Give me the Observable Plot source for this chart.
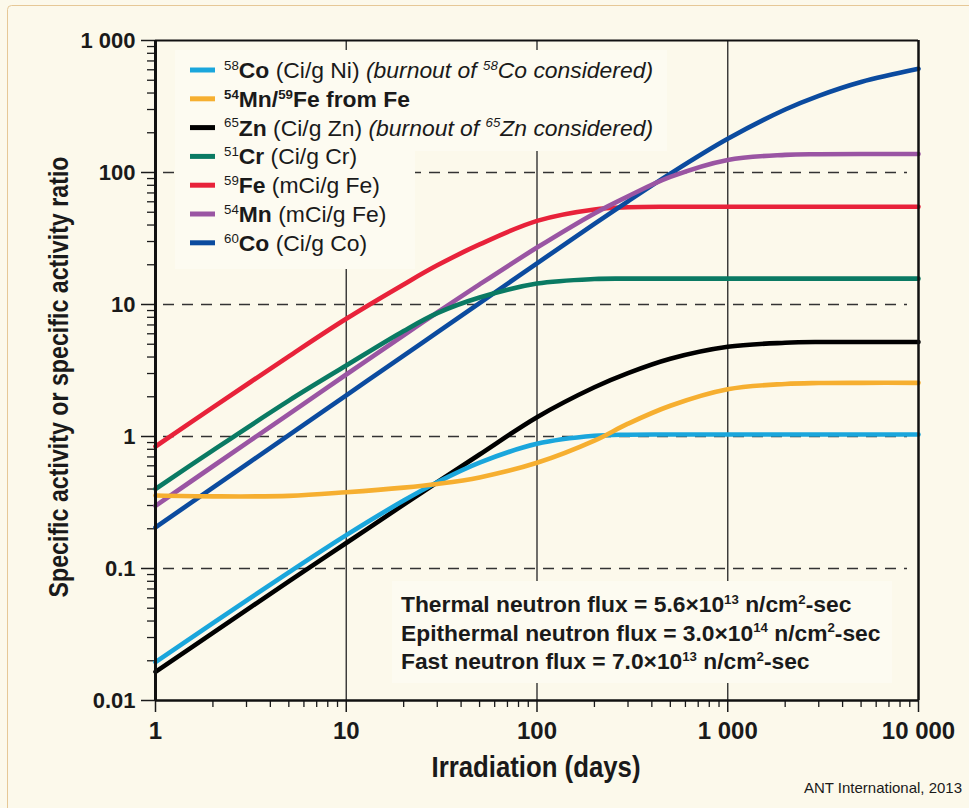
<!DOCTYPE html>
<html><head><meta charset="utf-8">
<script src="https://cdn.jsdelivr.net/npm/d3@7"></script>
<script src="https://cdn.jsdelivr.net/npm/@observablehq/plot@0.6"></script>
<style>
html,body{margin:0;padding:0;background:#fcf9eb;}
#chart{position:relative;width:969px;height:808px;overflow:hidden;}
</style></head><body><div id="chart"></div>
<script>
// ---- data ----
const days   = [1, 2, 5, 10, 20, 30, 50, 100, 200, 300, 500, 1000, 2000, 3000, 5000, 10000];
const co58   = [0.0195, 0.0385, 0.0935, 0.179, 0.327, 0.45, 0.634, 0.88, 1.012, 1.032, 1.035, 1.035, 1.035, 1.035, 1.035, 1.035];
const mnFe   = [0.357, 0.352, 0.355, 0.378, 0.41, 0.437, 0.49, 0.632, 0.93, 1.25, 1.71, 2.28, 2.5, 2.54, 2.55, 2.55];
const zn65   = [0.0165, 0.0325, 0.080, 0.156, 0.305, 0.45, 0.73, 1.40, 2.36, 3.02, 3.88, 4.78, 5.13, 5.2, 5.2, 5.2];
const cr51   = [0.40, 0.785, 1.87, 3.45, 6.3, 8.6, 11.3, 14.4, 15.6, 15.7, 15.7, 15.7, 15.7, 15.7, 15.7, 15.7];
const fe59   = [0.84, 1.66, 4.05, 7.8, 14.2, 19.8, 28.5, 43, 52.5, 54.5, 55, 55, 55, 55, 55, 55];
const mn54   = [0.298, 0.595, 1.48, 2.95, 5.85, 8.7, 14.2, 27, 49, 66, 92.5, 124.5, 136, 137.5, 138, 138];
const co60   = [0.205, 0.41, 1.025, 2.05, 4.1, 6.15, 10.25, 20.5, 40.8, 60.5, 98, 180, 300, 381, 485, 610];

const seriesKeys   = ["co58", "mnFe", "zn65", "cr51", "fe59", "mn54", "co60"];
const seriesColors = ["#1aa6dc", "#f6af30", "#000000", "#0a7a63", "#e8223a", "#9a55a3", "#0b4b9f"];
const seriesValues = [co58, mnFe, zn65, cr51, fe59, mn54, co60];
const drawOrder    = ["fe59", "co60", "mn54", "cr51", "zn65", "co58", "mnFe"];

const xMajor = [1, 10, 100, 1000, 10000];
const xMajorLabels = ["1", "10", "100", "1 000", "10 000"];
const yMajor = [0.01, 0.1, 1, 10, 100, 1000];
const yMajorLabels = ["0.01", "0.1", "1", "10", "100", "1 000"];
const xGrid = [10, 100, 1000];
const yGrid = [0.1, 1, 10, 100];

const legendRows = [
  [{t:"58",sup:1},{t:"Co",b:1},{t:" (Ci/g Ni) "},{t:"(burnout of ",i:1},{t:"58",sup:1,i:1},{t:"Co considered)",i:1}],
  [{t:"54",sup:1,b:1},{t:"Mn/",b:1},{t:"59",sup:1,b:1},{t:"Fe from Fe",b:1}],
  [{t:"65",sup:1},{t:"Zn",b:1},{t:" (Ci/g Zn) "},{t:"(burnout of ",i:1},{t:"65",sup:1,i:1},{t:"Zn considered)",i:1}],
  [{t:"51",sup:1},{t:"Cr",b:1},{t:" (Ci/g Cr)"}],
  [{t:"59",sup:1},{t:"Fe",b:1},{t:" (mCi/g Fe)"}],
  [{t:"54",sup:1},{t:"Mn",b:1},{t:" (mCi/g Fe)"}],
  [{t:"60",sup:1},{t:"Co",b:1},{t:" (Ci/g Co)"}]
];
const noteRows = [
  [{t:"Thermal neutron flux = 5.6×10"},{t:"13",sup:1},{t:" n/cm"},{t:"2",sup:1},{t:"-sec"}],
  [{t:"Epithermal neutron flux = 3.0×10"},{t:"14",sup:1},{t:" n/cm"},{t:"2",sup:1},{t:"-sec"}],
  [{t:"Fast neutron flux = 7.0×10"},{t:"13",sup:1},{t:" n/cm"},{t:"2",sup:1},{t:"-sec"}]
];
const xTitle = "Irradiation (days)";
const yTitle = "Specific activity or specific activity ratio";
const caption = "ANT International, 2013";

// ---- build ----
const SANS = "'Liberation Sans', Arial, Helvetica, sans-serif";
const NARROW = "'Liberation Sans Narrow', 'Arial Narrow', 'Liberation Sans', sans-serif";
const rows = seriesKeys.flatMap((k, si) => days.map((d, i) => ({series: k, day: d, value: seriesValues[si][i]})));

const minorOf = (lo, hi) => { const out = []; for (let e = lo; e < hi; e++) for (let m = 2; m <= 9; m++) out.push(m * 10 ** e); return out; };
const xMinor = minorOf(0, 4);
const yMinor = minorOf(-2, 3);

const lineMarks = drawOrder.map(k => {
  const si = seriesKeys.indexOf(k);
  return Plot.line(rows.filter(r => r.series === k), {
    x: "day", y: "value", stroke: seriesColors[si], strokeWidth: 4.6, curve: "catmull-rom"
  });
});

const plot = Plot.plot({
  width: 969, height: 808,
  marginLeft: 155, marginRight: 51, marginTop: 40, marginBottom: 108,
  style: {background: "transparent", color: "#1a1a1a", fontFamily: SANS},
  x: {type: "log", domain: [1, 10000], axis: null},
  y: {type: "log", domain: [0.01, 1000], axis: null},
  marks: [
    Plot.ruleX(xGrid, {stroke: "#333", strokeWidth: 1.4}),
    Plot.ruleY(yGrid, {stroke: "#333", strokeWidth: 1.4, strokeDasharray: "11,8", insetLeft: 8, insetRight: 11}),
    Plot.axisY(yMinor, {tickSize: 8, tickFormat: () => "", label: null, strokeWidth: 1.3}),
    Plot.axisY(yMajor, {tickSize: 14, tickPadding: 6, label: null, strokeWidth: 1.5,
      tickFormat: d => yMajorLabels[yMajor.indexOf(d)], fontSize: 22, fontWeight: "bold", fontFamily: SANS}),
    Plot.axisX(xMinor, {tickSize: 7, tickFormat: () => "", label: null, strokeWidth: 1.3}),
    Plot.axisX(xMajor, {tickSize: 12, tickPadding: 9, label: null, strokeWidth: 1.5,
      tickFormat: d => xMajorLabels[xMajor.indexOf(d)], fontSize: 24, fontWeight: "bold", fontFamily: NARROW}),
    ...lineMarks,
    Plot.ruleX([1], {stroke: "#111", strokeWidth: 3}),
    Plot.ruleX([10000], {stroke: "#111", strokeWidth: 2.5}),
    Plot.ruleY([1000], {stroke: "#111", strokeWidth: 2}),
    Plot.ruleY([0.01], {stroke: "#111", strokeWidth: 2.5})
  ]
});
document.getElementById("chart").append(plot);

const svg = d3.select(plot);
const firstLine = plot.querySelector("g[aria-label='line']");
const bg = svg.insert("g", () => firstLine).attr("class", "boxes");
const BOX = "#fdfbf1";
bg.append("rect").attr("x", 175).attr("y", 50).attr("width", 492).attr("height", 101).attr("fill", BOX);
bg.append("rect").attr("x", 175).attr("y", 150).attr("width", 240).attr("height", 119).attr("fill", BOX);
bg.append("rect").attr("x", 392).attr("y", 581).attr("width", 500).attr("height", 102).attr("fill", BOX);

function rich(g, x, y, segs, base, weight, family) {
  const t = g.append("text").attr("x", x).attr("y", y).attr("font-family", family)
    .attr("text-anchor", "start")
    .attr("font-size", base).attr("font-weight", weight).attr("fill", "#1a1a1a");
  let raised = false;
  const up = base * 0.36;
  segs.forEach(s => {
    const ts = t.append("tspan").text(s.t);
    if (s.b) ts.attr("font-weight", "bold");
    if (s.i) ts.attr("font-style", "italic");
    if (s.sup) {
      ts.attr("font-size", base * 0.58);
      if (!raised) { ts.attr("dy", -up); raised = true; }
    } else if (raised) { ts.attr("dy", up); raised = false; }
  });
  return t;
}

const leg = svg.append("g").attr("class", "legend");
legendRows.forEach((segs, i) => {
  const yb = 78 + i * 28.8;
  leg.append("line").attr("x1", 190).attr("x2", 215).attr("y1", yb - 8).attr("y2", yb - 8)
    .attr("stroke", seriesColors[i]).attr("stroke-width", 5);
  rich(leg, 224, yb, segs, 22.9, "normal", SANS);
});

const note = svg.append("g").attr("class", "note");
noteRows.forEach((segs, i) => rich(note, 401, 612 + i * 28.5, segs, 22.8, "bold", SANS));

svg.append("text").attr("transform", "translate(68,377) rotate(-90)").attr("text-anchor", "middle")
  .attr("font-family", NARROW).attr("font-size", 27).attr("font-weight", "bold").attr("fill", "#1a1a1a")
  .attr("textLength", 441).attr("lengthAdjust", "spacingAndGlyphs").text(yTitle);
svg.append("text").attr("x", 536).attr("y", 777).attr("text-anchor", "middle")
  .attr("font-family", NARROW).attr("font-size", 30).attr("font-weight", "bold").attr("fill", "#1a1a1a")
  .attr("textLength", 209).attr("lengthAdjust", "spacingAndGlyphs").text(xTitle);
svg.append("text").attr("x", 962).attr("y", 793).attr("text-anchor", "end")
  .attr("font-family", NARROW).attr("font-size", 15).attr("fill", "#1a1a1a")
  .attr("textLength", 158).attr("lengthAdjust", "spacingAndGlyphs").text(caption);
svg.append("rect").attr("x", 7.5).attr("y", 5.5).attr("width", 980).attr("height", 820).attr("rx", 4)
  .attr("fill", "none").attr("stroke", "#e6c897").attr("stroke-width", 1);
</script>
</body></html>
